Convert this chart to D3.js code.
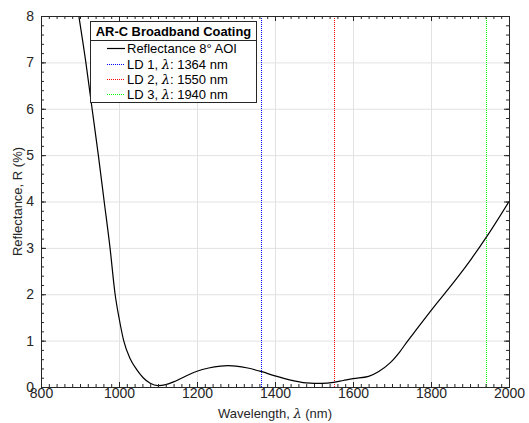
<!DOCTYPE html>
<html>
<head>
<meta charset="utf-8">
<script src="https://cdn.jsdelivr.net/npm/d3@7"></script>
<style>
  body { margin: 0; background: #fff; }
  svg { display: block; font-family: "Liberation Sans", Arial, sans-serif; }
  .grid line { stroke: #e2e2e2; stroke-width: 1; }
  .grid .domain { display: none; }
  .ax .domain { stroke: #262626; }
  .ax line { stroke: #262626; }
  .ax text { fill: #262626; font-size: 14px; }
</style>
</head>
<body>
<svg width="529" height="423"></svg>
<script>

// reflectance curve
const wavelength = [880, 897, 915, 931, 947, 962, 977, 990, 1001, 1012, 1028, 1045, 1062, 1080, 1100,
                    1120, 1140, 1160, 1180, 1200, 1230, 1260, 1280, 1300, 1330, 1366, 1400, 1440,
                    1480, 1500, 1520, 1550, 1575, 1600, 1640, 1665, 1695, 1720, 1740, 1760, 1804,
                    1866, 1904, 1945, 2000];
const reflectance = [8.9, 8.0, 7.0, 6.0, 5.0, 4.0, 3.0, 2.0, 1.45, 1.0, 0.62, 0.38, 0.2, 0.08, 0.03,
                     0.05, 0.11, 0.19, 0.27, 0.34, 0.41, 0.45, 0.46, 0.45, 0.41, 0.33, 0.24, 0.15,
                     0.09, 0.08, 0.08, 0.10, 0.14, 0.18, 0.23, 0.33, 0.52, 0.76, 0.99, 1.21, 1.69,
                     2.34, 2.77, 3.27, 4.0];

const ldNames  = ['LD 1', 'LD 2', 'LD 3'];
const ldLambda = [1364, 1550, 1940];
const ldColors = ['#0000ff', '#ff0000', '#00ff00'];

const xTicks = [800, 1000, 1200, 1400, 1600, 1800, 2000];
const yTicks = [0, 1, 2, 3, 4, 5, 6, 7, 8];

const svg = d3.select('svg');

const x = d3.scaleLinear().domain([800, 2000]).range([41, 509]);
const y = d3.scaleLinear().domain([0, 8]).range([387, 16]);

const innerW = x.range()[1] - x.range()[0];
const innerH = y.range()[0] - y.range()[1];

// grid
svg.append('g').attr('class', 'grid')
  .attr('transform', `translate(0,${y(0)})`)
  .call(d3.axisBottom(x).tickValues(xTicks).tickSize(-innerH).tickFormat(''));
svg.append('g').attr('class', 'grid')
  .attr('transform', `translate(${x(800)},0)`)
  .call(d3.axisLeft(y).tickValues(yTicks).tickSize(-innerW).tickFormat(''));

// clip for data
svg.append('clipPath').attr('id', 'plotclip')
  .append('rect')
    .attr('x', x(800)).attr('y', y(8))
    .attr('width', innerW).attr('height', innerH);

const plot = svg.append('g').attr('clip-path', 'url(#plotclip)');

// laser lines, snapped to pixel centres so the dots stay crisp
ldLambda.forEach((l, i) => {
  const px = Math.round(x(l)) + 0.5;
  plot.append('line')
    .attr('x1', px).attr('x2', px)
    .attr('y1', y(0)).attr('y2', y(8))
    .attr('stroke', ldColors[i])
    .attr('stroke-width', 1)
    .attr('shape-rendering', 'crispEdges')
    .attr('stroke-dasharray', '1,1');
});

const pts = wavelength.map((w, i) => [w, reflectance[i]]);
const line = d3.line()
  .x(d => x(d[0]))
  .y(d => y(d[1]))
  .curve(d3.curveMonotoneX);

plot.append('path')
  .datum(pts)
  .attr('fill', 'none')
  .attr('stroke', '#000')
  .attr('stroke-width', 1.2)
  .attr('d', line);

// axes, ticks inside
const minorX = d3.range(800, 2001, 20);
const minorY = d3.range(0, 8.01, 0.2);

function addAxis(axis, tx, ty, labels) {
  const g = svg.append('g').attr('class', 'ax')
    .attr('transform', `translate(${tx},${ty})`)
    .call(axis);
  if (!labels) g.selectAll('text').remove();
  return g;
}

addAxis(d3.axisBottom(x).tickValues(minorX).tickSize(-3).tickSizeOuter(0), 0, y(0), false);
addAxis(d3.axisTop(x).tickValues(minorX).tickSize(-3).tickSizeOuter(0), 0, y(8), false);
addAxis(d3.axisLeft(y).tickValues(minorY).tickSize(-3).tickSizeOuter(0), x(800), 0, false);
addAxis(d3.axisRight(y).tickValues(minorY).tickSize(-3).tickSizeOuter(0), x(2000), 0, false);

addAxis(d3.axisBottom(x).tickValues(xTicks).tickSize(-5).tickSizeOuter(0).tickPadding(1.5)
  .tickFormat(d3.format('d')), 0, y(0), true);
addAxis(d3.axisTop(x).tickValues(xTicks).tickSize(-5).tickSizeOuter(0), 0, y(8), false);
addAxis(d3.axisLeft(y).tickValues(yTicks).tickSize(-5).tickSizeOuter(0).tickPadding(7)
  .tickFormat(d3.format('d')), x(800), 0, true);
addAxis(d3.axisRight(y).tickValues(yTicks).tickSize(-5).tickSizeOuter(0), x(2000), 0, false);

// axis labels
const xl = svg.append('text')
  .attr('x', (x(800) + x(2000)) / 2)
  .attr('y', 418)
  .attr('text-anchor', 'middle')
  .attr('font-size', 13)
  .attr('fill', '#262626');
xl.append('tspan').text('Wavelength, ');
xl.append('tspan').attr('font-family', '"DejaVu Serif", serif').attr('font-style', 'italic').text('λ');
xl.append('tspan').text(' (nm)');

svg.append('text')
  .attr('transform', `translate(22,${(y(0) + y(8)) / 2}) rotate(-90)`)
  .attr('text-anchor', 'middle')
  .attr('font-size', 13)
  .attr('fill', '#262626')
  .text('Reflectance, R (%)');

// legend
const lg = svg.append('g');
lg.append('rect')
  .attr('x', 90.5).attr('y', 21.5)
  .attr('width', 166).attr('height', 81)
  .attr('fill', '#fff')
  .attr('stroke', '#262626')
  .attr('stroke-width', 1);
lg.append('line')
  .attr('x1', 90.5).attr('x2', 256.5)
  .attr('y1', 40.5).attr('y2', 40.5)
  .attr('stroke', '#262626');
lg.append('text')
  .attr('x', 173.5).attr('y', 35.5)
  .attr('text-anchor', 'middle')
  .attr('font-size', 12.9)
  .attr('font-weight', 'bold')
  .attr('fill', '#000')
  .text('AR-C Broadband Coating');

const rowY = [48.5, 64.5, 79.5, 94.5];
lg.append('line')
  .attr('x1', 107).attr('x2', 125)
  .attr('y1', rowY[0]).attr('y2', rowY[0])
  .attr('stroke', '#000').attr('stroke-width', 1.2);
lg.append('text')
  .attr('x', 127).attr('y', rowY[0] + 4.6)
  .attr('font-size', 13).attr('fill', '#000')
  .text('Reflectance 8° AOI');

ldNames.forEach((n, i) => {
  const ry = rowY[i + 1];
  lg.append('line')
    .attr('x1', 107).attr('x2', 125)
    .attr('y1', ry).attr('y2', ry)
    .attr('stroke', ldColors[i])
    .attr('shape-rendering', 'crispEdges')
    .attr('stroke-dasharray', '1,1');
  const t = lg.append('text')
    .attr('x', 127).attr('y', ry + 4.6)
    .attr('font-size', 13).attr('fill', '#000');
  t.append('tspan').text(n + ', ');
  t.append('tspan').attr('font-family', '"DejaVu Serif", serif').attr('font-style', 'italic').text('λ');
  t.append('tspan').text(': ' + ldLambda[i] + ' nm');
});

</script>
</body>
</html>
